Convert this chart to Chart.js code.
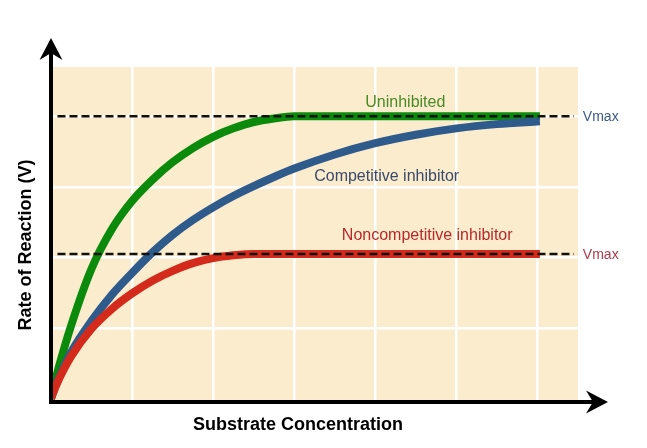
<!DOCTYPE html>
<html>
<head>
<meta charset="utf-8">
<script src="https://cdn.jsdelivr.net/npm/chart.js@4.4.1/dist/chart.umd.min.js"></script>
<style>
  html, body { margin: 0; padding: 0; background: #fff; }
  canvas { display: block; }
</style>
</head>
<body>
<canvas id="kineticsChart" width="647" height="448"></canvas>
<script>
// substrate concentration (arbitrary units) where the curves were read
const concentration  = [0, 0.05, 0.1, 0.25, 0.5, 0.75, 1, 1.25, 1.5, 1.75, 2, 2.25, 2.5, 2.75, 3, 3.5, 4, 4.5, 5, 5.5, 6.03];
const uninhibited    = [0, 0.24, 0.46, 1.04, 1.84, 2.4, 2.8, 3.1, 3.35, 3.55, 3.71, 3.83, 3.92, 3.97, 4, 4, 4, 4, 4, 4, 4];
const competitive    = [0, 0.16, 0.3, 0.66, 1.1, 1.47, 1.78, 2.07, 2.32, 2.53, 2.71, 2.87, 3.01, 3.14, 3.26, 3.46, 3.62, 3.74, 3.83, 3.89, 3.93];
const noncompetitive = [0, 0.15, 0.28, 0.6, 0.99, 1.27, 1.49, 1.67, 1.81, 1.92, 1.99, 2.03, 2.05, 2.05, 2.05, 2.05, 2.05, 2.05, 2.05, 2.05, 2.05];

const vmaxLevels = [4, 2.05];
const vmaxSpan = [0.08, 6.45];

const FONT = "'Liberation Sans', Arial, Helvetica, sans-serif";

function points(xs, ys) {
    return xs.map((x, i) => ({x: x, y: ys[i]}));
}

function dashLine(level) {
    return {
        data: vmaxSpan.map(x => ({x: x, y: level})),
        borderColor: '#111',
        borderWidth: 2.5,
        borderDash: [8, 4],
        pointRadius: 0,
        tension: 0,
        order: 0
    };
}

function curve(ys, color, order) {
    return {
        data: points(concentration, ys),
        borderColor: color,
        borderWidth: 8,
        borderCapStyle: 'butt',
        borderJoinStyle: 'round',
        pointRadius: 0,
        cubicInterpolationMode: 'monotone',
        order: order
    };
}

function arrowHead(ctx, tipX, tipY, dir) {
    // dir: 'up' or 'right'
    ctx.beginPath();
    if (dir === 'up') {
        ctx.moveTo(tipX, tipY);
        ctx.lineTo(tipX + 11.5, tipY + 22);
        ctx.lineTo(tipX, tipY + 15);
        ctx.lineTo(tipX - 11.5, tipY + 22);
    } else {
        ctx.moveTo(tipX, tipY);
        ctx.lineTo(tipX - 22, tipY - 11.5);
        ctx.lineTo(tipX - 15, tipY);
        ctx.lineTo(tipX - 22, tipY + 11.5);
    }
    ctx.closePath();
    ctx.fill();
}

const decor = {
    id: 'decor',
    beforeDraw(chart) {
        const {ctx, chartArea: a} = chart;
        ctx.save();
        ctx.fillStyle = '#fcecce';
        ctx.fillRect(a.left + 2, a.top, a.right - a.left - 2, a.bottom - a.top);
        ctx.restore();
    },
    afterDraw(chart) {
        const {ctx, chartArea: a} = chart;
        const xs = chart.scales.x, ys = chart.scales.y;
        ctx.save();

        // axes with arrows
        ctx.strokeStyle = '#000';
        ctx.fillStyle = '#000';
        ctx.lineWidth = 4;
        ctx.beginPath();
        ctx.moveTo(a.left, a.bottom + 2);
        ctx.lineTo(a.left, 50);
        ctx.moveTo(a.left - 2, a.bottom);
        ctx.lineTo(596, a.bottom);
        ctx.stroke();
        arrowHead(ctx, a.left, 38, 'up');
        arrowHead(ctx, 608, a.bottom, 'right');

        // curve labels
        ctx.font = '16px ' + FONT;
        ctx.textAlign = 'center';
        ctx.textBaseline = 'middle';
        ctx.fillStyle = '#4a8a24';
        ctx.fillText('Uninhibited', xs.getPixelForValue(4.37), ys.getPixelForValue(4.19));
        ctx.fillStyle = '#3b4a6b';
        ctx.fillText('Competitive inhibitor', xs.getPixelForValue(4.14), ys.getPixelForValue(3.15));
        ctx.fillStyle = '#b8282a';
        ctx.fillText('Noncompetitive inhibitor', xs.getPixelForValue(4.64), ys.getPixelForValue(2.31));

        // Vmax labels
        ctx.font = '14px ' + FONT;
        ctx.textAlign = 'left';
        ctx.fillStyle = '#3d5a8a';
        ctx.fillText('Vmax', xs.getPixelForValue(6.56), ys.getPixelForValue(vmaxLevels[0]) + 1);
        ctx.fillStyle = '#b03a4a';
        ctx.fillText('Vmax', xs.getPixelForValue(6.56), ys.getPixelForValue(vmaxLevels[1]) + 1);

        // axis titles
        ctx.fillStyle = '#000';
        ctx.font = 'bold 18px ' + FONT;
        ctx.textAlign = 'center';
        ctx.fillText('Substrate Concentration', 298, 425);
        ctx.translate(26, 245);
        ctx.rotate(-Math.PI / 2);
        ctx.fillText('Rate of Reaction (V)', 0, 0);
        ctx.restore();
    }
};

const ctx = document.getElementById('kineticsChart').getContext('2d');
const kineticsChart = new Chart(ctx, {
    type: 'line',
    data: {
        datasets: [
            dashLine(vmaxLevels[0]),
            dashLine(vmaxLevels[1]),
            curve(noncompetitive, '#d32a1b', 1),
            curve(competitive, '#2f5b8c', 2),
            curve(uninhibited, '#0b8a0b', 3)
        ]
    },
    options: {
        responsive: false,
        animation: false,
        layout: {
            padding: {left: 51, top: 67, right: 69, bottom: 46}
        },
        plugins: {
            legend: {display: false},
            tooltip: {enabled: false}
        },
        scales: {
            x: {
                type: 'linear',
                min: 0,
                max: 6.5,
                border: {display: false},
                grid: {
                    drawTicks: false,
                    lineWidth: 2.5,
                    color: c => c.tick && c.tick.value > 0 ? '#ffffff' : 'rgba(0,0,0,0)'
                },
                ticks: {display: false, stepSize: 1, includeBounds: false}
            },
            y: {
                type: 'linear',
                min: -0.05,
                max: 4.7,
                border: {display: false},
                grid: {
                    drawTicks: false,
                    lineWidth: 2.5,
                    color: c => c.tick && c.tick.value > 0 ? '#ffffff' : 'rgba(0,0,0,0)'
                },
                ticks: {display: false, stepSize: 1, includeBounds: false}
            }
        }
    },
    plugins: [decor]
});
</script>
</body>
</html>
